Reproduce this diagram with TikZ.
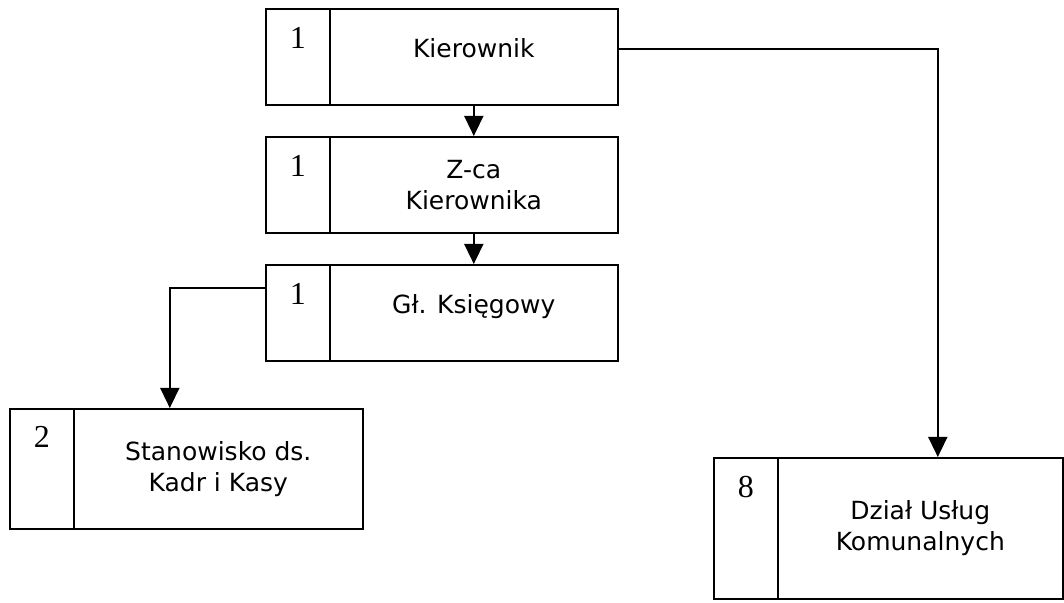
\documentclass[tikz,border=0pt]{standalone}
\usepackage{fontspec}
\setmainfont{DejaVu Sans}
\newfontfamily\numfont{Liberation Serif}
\usepackage{tikz}
\usetikzlibrary{positioning,arrows.meta}

\begin{document}
\begin{tikzpicture}[x=0.5pt,y=-0.5pt,line width=0.8pt,>={Triangle[length=10pt,width=9.5pt]}]
  \tikzstyle{cell}=[rectangle,draw,inner sep=0pt,anchor=north west,minimum width=32pt]
  \tikzstyle{unit}=[rectangle,draw,inner sep=0pt,anchor=north west,align=center,
    font=\fontsize{12.5}{15.5}\selectfont]
  \tikzstyle{oneline}=[text height=9.5pt,text depth=8.5pt]
  \tikzstyle{num}=[inner sep=0pt,font=\numfont\fontsize{16}{18}\selectfont]

  \useasboundingbox (0,0) rectangle (1064,603);

  % top row
  \node[cell,minimum height=48pt] (kier1) at (265,8) {};
  \node[unit,oneline,minimum width=144pt,minimum height=48pt] (kier) at (329,8) {Kierownik};
  \node[num,below=9.5pt of kier1.north] (kiern) {1};

  \node[cell,minimum height=48pt] (zca1) at (265,136) {};
  \node[unit,minimum width=144pt,minimum height=48pt] (zca) at (329,136) {Z-ca\\Kierownika};
  \node[num,below=9.5pt of zca1.north] (zcan) {1};

  \node[cell,minimum height=48pt] (gl1) at (265,264) {};
  \node[unit,oneline,minimum width=144pt,minimum height=48pt] (gl) at (329,264) {Gł. Księgowy};
  \node[num,below=9.5pt of gl1.north] (gln) {1};

  % lower boxes
  \node[cell,minimum height=60pt] (stan1) at (9,408) {};
  \node[unit,minimum width=144.5pt,minimum height=60pt] (stan) at (73,408) {Stanowisko ds.\\Kadr i Kasy};
  \node[num,below=9pt of stan1.north] (stann) {2};

  \node[cell,minimum height=70.5pt] (dzial1) at (713,457) {};
  \node[unit,minimum width=142.5pt,minimum height=70.5pt] (dzial) at (777,457) {Dział Usług\\Komunalnych};
  \node[num,below=9pt of dzial1.north] (dzialn) {8};

  \draw[->] (kier) -- (zca);
  \draw[->] (zca) -- (gl);
  \draw[->] ([yshift=-12pt]gl1.north west) -| ([xshift=-24.25pt]stan.north);
  \draw[->] ([yshift=4pt]kier.east) -| ([xshift=8.75pt]dzial.north);
\end{tikzpicture}
\end{document}
